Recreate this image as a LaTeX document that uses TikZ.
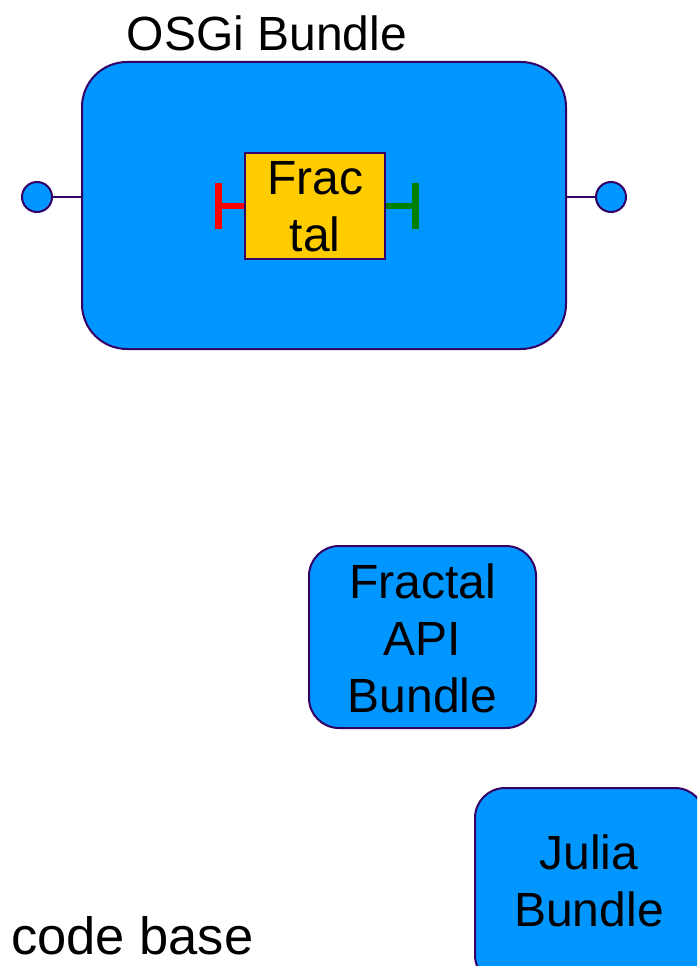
\documentclass[tikz,border=0pt]{standalone}
\usepackage{fontspec}
\setmainfont{Liberation Sans}
\definecolor{bfill}{HTML}{0096FF}
\definecolor{bline}{HTML}{330066}
\definecolor{yfill}{HTML}{FFCC00}
\definecolor{gline}{HTML}{008000}
\begin{document}
\begin{tikzpicture}[x=1pt,y=-1pt,
  bigtxt/.style={font=\fontsize{48}{57}\selectfont,align=center,inner sep=0pt},
  bundle/.style={draw=bline,line width=2pt,fill=bfill},
  port/.style={circle,draw=bline,line width=2pt,fill=bfill,minimum size=30pt,inner sep=0pt}]
\useasboundingbox (0,0) rectangle (697,966);
\begin{scope}
\clip (0,0) rectangle (697,966);
% OSGi bundle
\draw[bundle,rounded corners=45pt] (82,62) rectangle (566,349);
\coordinate (bl) at (82,197);
\coordinate (br) at (566,197);
\node[bigtxt] (title) at (267,33) {OSGi Bundle};
\node[port] (pl) at (37,197) {};
\node[port] (pr) at (611,197) {};
\draw[bline,line width=2pt] (pl) -- (bl);
\draw[bline,line width=2pt] (br) -- (pr);
% Fractal component
\node[draw=bline,line width=2pt,fill=yfill,minimum width=140pt,minimum height=106pt,inner sep=0pt] (frac) at (315,206) {};
\node[bigtxt] at (315,207) {Frac\\tal};
\coordinate (rt) at (218,206);
\coordinate (gt) at (415,206);
\draw[red,line width=6pt] (frac.west) -- (rt);
\draw[red,line width=7pt] (218,183) -- (218,229);
\draw[gline,line width=6pt] (frac.east) -- (gt);
\draw[gline,line width=7pt] (415,183) -- (415,229);
% Fractal API bundle
\draw[bundle,rounded corners=30pt] (309,546) rectangle (536,728);
\node[bigtxt] (api) at (422.5,638) {Fractal\\API\\Bundle};
% Julia bundle
\draw[bundle,rounded corners=30pt] (475,788) rectangle (705,985);
\node[bigtxt] (julia) at (589,881) {Julia\\Bundle};
% code base
\node[bigtxt,font=\fontsize{52.5}{60}\selectfont,anchor=west] (code) at (11,936) {code base};
\end{scope}
\end{tikzpicture}
\end{document}
